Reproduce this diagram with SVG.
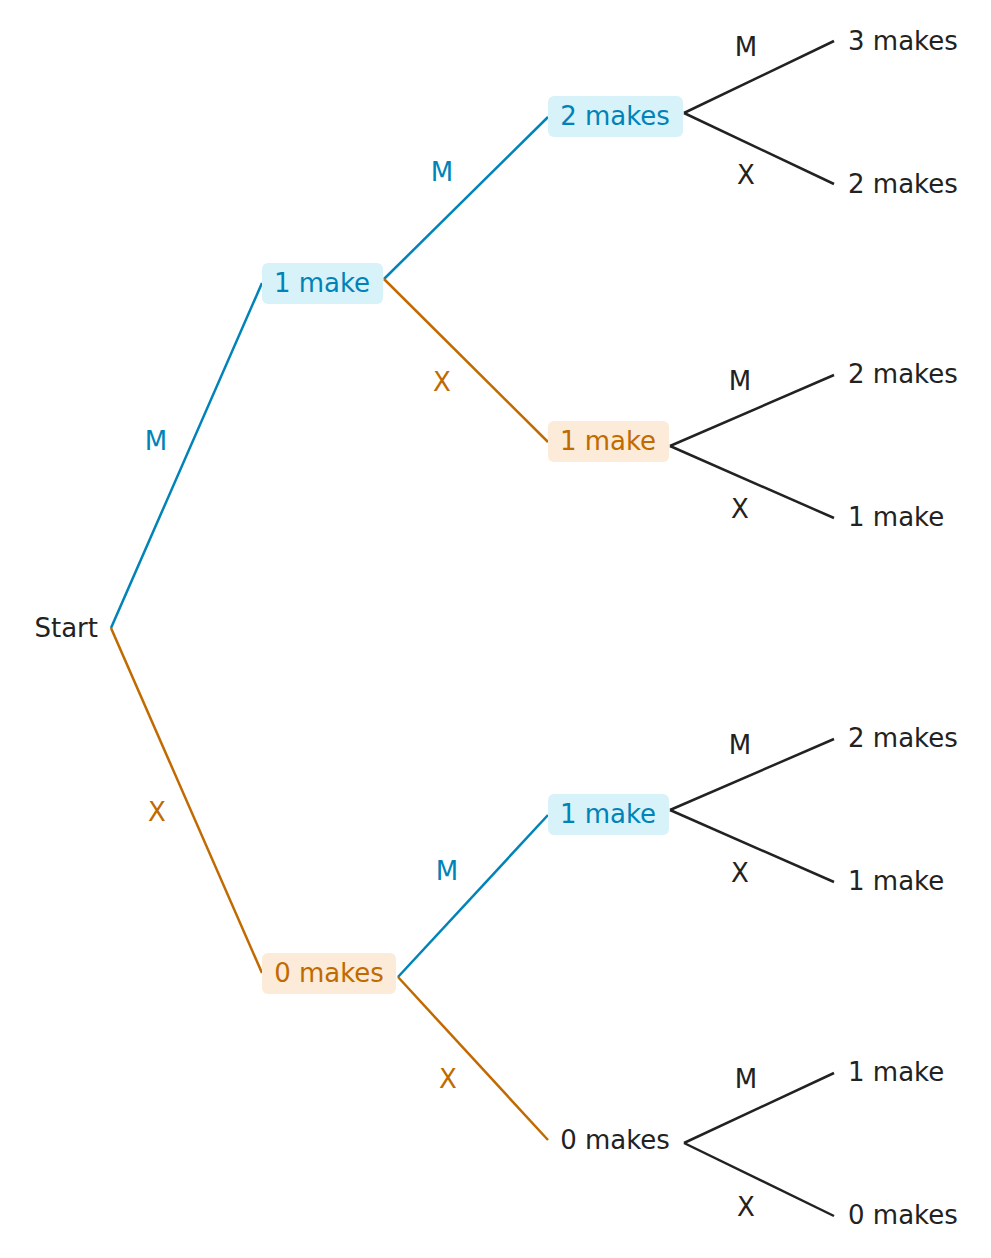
<svg xmlns="http://www.w3.org/2000/svg" width="991" height="1258" viewBox="0 0 991 1258">
<style>
text{font-family:"DejaVu Sans",sans-serif;font-size:26px;dominant-baseline:central;fill:#222}
.b{fill:#0083b8}.o{fill:#c06a00}
.lb{stroke:#0083b8}.lo{stroke:#c06a00}.lk{stroke:#222}
line{stroke-width:2.5;fill:none}
.bb{fill:#d8f2f9}.bo{fill:#fbebd8}
.m{text-anchor:middle}
</style>
<rect width="991" height="1258" fill="#fff"/>
<g id="connectors">
<line class="lb" x1="111" y1="628" x2="262" y2="283"/>
<line class="lo" x1="111" y1="628" x2="262" y2="973"/>
<line class="lb" x1="384" y1="279" x2="548" y2="117"/>
<line class="lo" x1="384" y1="279" x2="548" y2="442"/>
<line class="lb" x1="398" y1="977" x2="548" y2="815"/>
<line class="lo" x1="398" y1="977" x2="548" y2="1140"/>
<line class="lk" x1="684" y1="113" x2="834" y2="41"/>
<line class="lk" x1="684" y1="113" x2="834" y2="184"/>
<line class="lk" x1="670" y1="446" x2="834" y2="375"/>
<line class="lk" x1="670" y1="446" x2="834" y2="518"/>
<line class="lk" x1="670" y1="810" x2="834" y2="739"/>
<line class="lk" x1="670" y1="810" x2="834" y2="882"/>
<line class="lk" x1="684" y1="1143" x2="834" y2="1073"/>
<line class="lk" x1="684" y1="1143" x2="834" y2="1216"/>
<text class="b m" x="156" y="441">M</text>
<text class="o m" x="157" y="812">X</text>
<text class="b m" x="442" y="172">M</text>
<text class="o m" x="442" y="382">X</text>
<text class="b m" x="447" y="871">M</text>
<text class="o m" x="448" y="1079">X</text>
<text class="m" x="746" y="47">M</text>
<text class="m" x="746" y="175">X</text>
<text class="m" x="740" y="381">M</text>
<text class="m" x="740" y="509">X</text>
<text class="m" x="740" y="745">M</text>
<text class="m" x="740" y="873">X</text>
<text class="m" x="746" y="1079">M</text>
<text class="m" x="746" y="1207">X</text>
</g>
<g id="start"><text x="98" y="628" text-anchor="end">Start</text></g>
<g id="n1"><rect class="bb" x="262" y="263" width="121" height="41" rx="6"/><text class="b m" x="322" y="283">1 make</text></g>
<g id="n0"><rect class="bo" x="262" y="953" width="134" height="41" rx="6"/><text class="o m" x="329" y="973">0 makes</text></g>
<g id="n11"><rect class="bb" x="548" y="96" width="135" height="41" rx="6"/><text class="b m" x="615" y="116">2 makes</text></g>
<g id="n10"><rect class="bo" x="548" y="421" width="121" height="41" rx="6"/><text class="o m" x="608" y="441">1 make</text></g>
<g id="n01"><rect class="bb" x="548" y="794" width="121" height="41" rx="6"/><text class="b m" x="608" y="814">1 make</text></g>
<g id="n00"><text class="m" x="615" y="1140">0 makes</text></g>
<g id="l1"><text x="848" y="41">3 makes</text></g>
<g id="l2"><text x="848" y="184">2 makes</text></g>
<g id="l3"><text x="848" y="374">2 makes</text></g>
<g id="l4"><text x="848" y="517">1 make</text></g>
<g id="l5"><text x="848" y="738">2 makes</text></g>
<g id="l6"><text x="848" y="881">1 make</text></g>
<g id="l7"><text x="848" y="1072">1 make</text></g>
<g id="l8"><text x="848" y="1215">0 makes</text></g>
</svg>
